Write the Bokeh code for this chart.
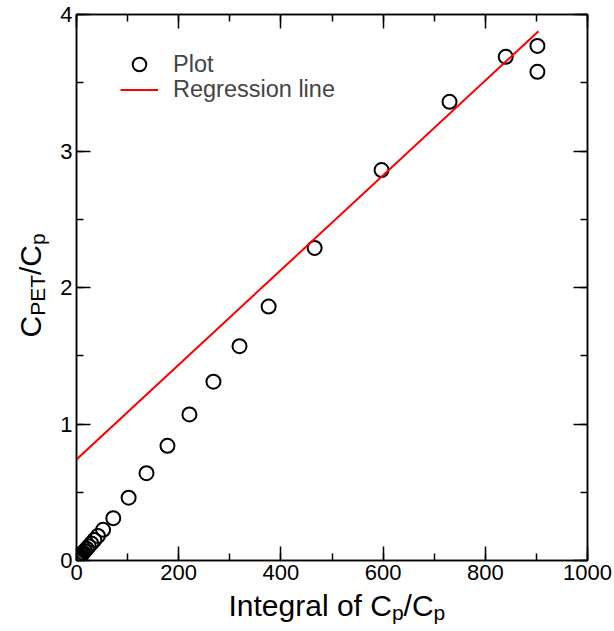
from bokeh.plotting import figure
from bokeh.layouts import row, column
from bokeh.models import (LinearAxis, SingleIntervalTicker, Range1d, Label,
                          Legend, LegendItem, CustomJSTickFormatter)
from bokeh.embed import file_html
from bokeh.resources import INLINE
import math

# Patlak-style data: integral of Cp/Cp versus C_PET/Cp
integral = [0.5, 1.5, 3, 5, 7.5, 10, 13, 16, 20, 24, 29, 35, 42, 52, 72,
            102, 137, 178, 221, 268, 319, 376, 466, 597, 730, 840, 902, 902]
ratio = [0.003, 0.008, 0.014, 0.022, 0.033, 0.044, 0.057, 0.07, 0.087,
         0.104, 0.125, 0.15, 0.18, 0.225, 0.31, 0.46, 0.64, 0.84, 1.07,
         1.31, 1.57, 1.86, 2.29, 2.86, 3.36, 3.69, 3.77, 3.58]

# Regression line
reg_intercept = 0.74
reg_slope = 0.00347
reg_x = [0, 904]
reg_y = [reg_intercept + reg_slope * v for v in reg_x]

FONT = "Liberation Sans"
TICK_SIZE = "22px"
MAIN = 30
SUB = 21
SUB_SHIFT = 7

LEFT_W = 56      # strip holding the y-axis title
BOTTOM_H = 43    # strip holding the x-axis title
W, H = 614, 631

p = figure(width=W - LEFT_W, height=H - BOTTOM_H, output_backend="svg",
           toolbar_location=None,
           x_range=Range1d(0, 1000), y_range=Range1d(0, 4),
           x_axis_type=None, y_axis_type=None,
           min_border_left=20, min_border_right=27,
           min_border_top=14, min_border_bottom=28)
p.grid.visible = False
p.outline_line_color = "black"
p.outline_line_width = 1.5
p.background_fill_color = "white"
p.border_fill_color = "white"


def make_axis(interval, show_labels):
    ax = LinearAxis(ticker=SingleIntervalTicker(interval=interval, num_minor_ticks=2))
    ax.major_tick_in = 14
    ax.major_tick_out = 0
    ax.minor_tick_in = 7
    ax.minor_tick_out = 0
    ax.axis_line_width = 1.5
    ax.major_tick_line_width = 1.5
    ax.minor_tick_line_width = 1.5
    ax.axis_line_color = "black"
    ax.major_tick_line_color = "black"
    ax.minor_tick_line_color = "black"
    ax.major_label_text_font = FONT
    ax.major_label_text_font_size = TICK_SIZE
    ax.major_label_text_color = "black"
    if show_labels:
        ax.major_label_standoff = 4
    else:
        # mirrored frame axis: ticks only
        ax.formatter = CustomJSTickFormatter(code="return ''")
        ax.major_label_standoff = 0
    return ax


p.add_layout(make_axis(200, True), "below")
p.add_layout(make_axis(200, False), "above")
p.add_layout(make_axis(1, True), "left")
p.add_layout(make_axis(1, False), "right")

pts = p.scatter(integral, ratio, marker="circle", size=14, fill_color=None,
                line_color="black", line_width=2)
reg = p.line(reg_x, reg_y, line_color="red", line_width=2)


def legend_entry(label, renderer, y, glyph_h):
    return Legend(items=[LegendItem(label=label, renderers=[renderer])],
                  location=(44, y), padding=0, margin=0, spacing=0,
                  glyph_width=38, glyph_height=glyph_h, label_height=25,
                  label_standoff=15, label_text_font=FONT,
                  label_text_font_size="23.5px", label_text_baseline="middle",
                  border_line_color=None, background_fill_alpha=0)


p.add_layout(legend_entry("Plot", pts, 479, 34), "center")
p.add_layout(legend_entry("Regression line", reg, 457, 25), "center")


def title_strip(width, height):
    f = figure(width=width, height=height, output_backend="svg",
               toolbar_location=None, x_range=Range1d(0, width),
               y_range=Range1d(0, height), x_axis_type=None, y_axis_type=None,
               min_border=0)
    f.grid.visible = False
    f.outline_line_color = None
    f.background_fill_color = "white"
    f.border_fill_color = "white"
    return f


# Arial/Liberation Sans advance widths (per 1000 em) for the axis titles
ADV = {'I': 278, 'n': 556, 't': 278, 'e': 556, 'g': 556, 'r': 333, 'a': 556,
       'l': 222, ' ': 278, 'o': 556, 'f': 278, 'C': 722, 'p': 556, '/': 278,
       'P': 667, 'E': 667, 'T': 611}


def text_width(s, size):
    return sum(ADV.get(c, 556) for c in s) * size / 1000.0


def rich_label(fig, pieces, x0, y0, vertical):
    pos = 0.0
    for txt, sub in pieces:
        size = SUB if sub else MAIN
        shift = SUB_SHIFT if sub else 0
        if vertical:
            lx, ly, ang = x0 + shift, y0 + pos, math.pi / 2
        else:
            lx, ly, ang = x0 + pos, y0 - shift, 0
        fig.add_layout(Label(x=lx, y=ly, x_units="screen", y_units="screen",
                             text=txt, angle=ang, text_font=FONT,
                             text_font_size=f"{size}px", text_color="black",
                             text_align="left", text_baseline="alphabetic"))
        pos += text_width(txt, size)


ytitle = title_strip(LEFT_W, H)
rich_label(ytitle, [("C", False), ("PET", True), ("/C", False), ("p", True)],
           30, 294, True)

xtitle = title_strip(W - LEFT_W, BOTTOM_H)
rich_label(xtitle, [("Integral of C", False), ("p", True), ("/C", False), ("p", True)],
           152, 26, False)

layout = row(ytitle, column(p, xtitle))
open("out.html", "w").write(file_html(layout, INLINE))
